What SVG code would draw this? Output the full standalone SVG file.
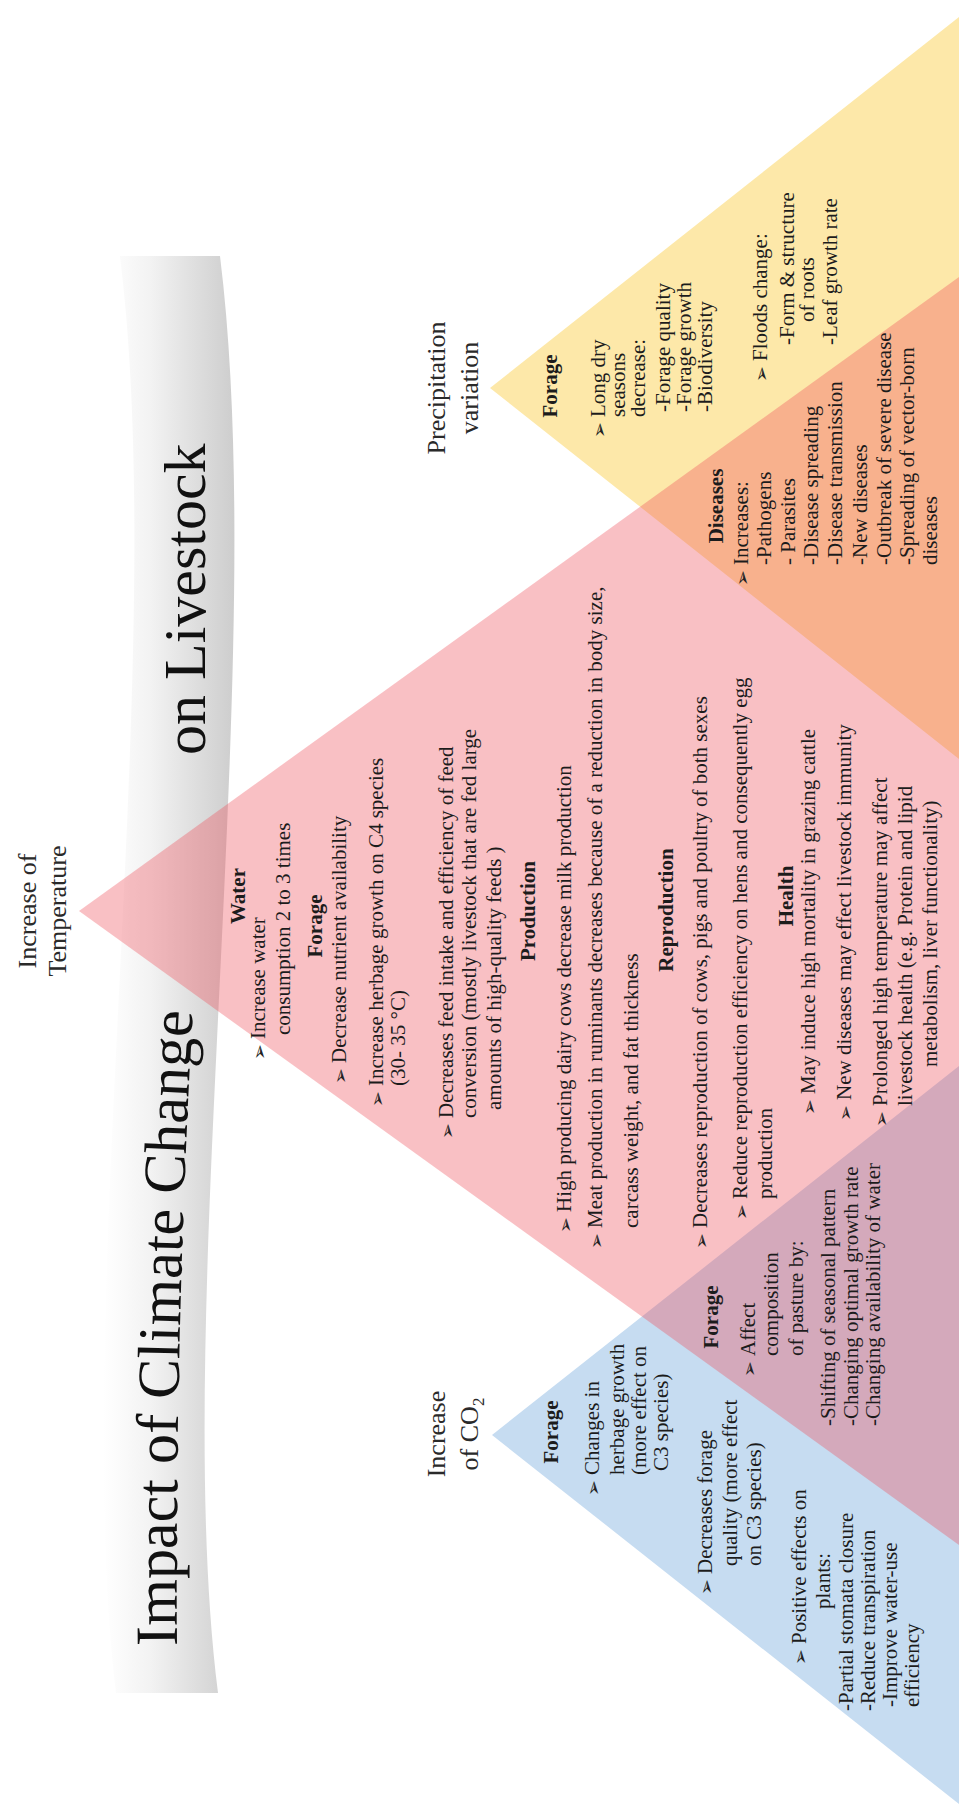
<svg xmlns="http://www.w3.org/2000/svg" width="959" height="1811" viewBox="0 0 959 1811">
<defs>
<linearGradient id="ribbonGrad" x1="0" y1="0" x2="0" y2="1">
<stop offset="0" stop-color="#ffffff"/>
<stop offset="0.35" stop-color="#f3f3f3"/>
<stop offset="1" stop-color="#cdcdcd"/>
</linearGradient>
<path id="titlePath" d="M 165 177 Q 500 175 820 194"/>
</defs>
<style>
.t{font-family:"Liberation Serif","Times New Roman",serif;font-size:21px;fill:#1c1c1c}
.h{font-weight:bold;text-anchor:middle}
.b{font-family:"DejaVu Sans",sans-serif;font-size:19px;fill:#222}
.lab{font-family:"Liberation Serif","Times New Roman",serif;font-size:26px;text-anchor:middle;fill:#2a2a2a}
.ttl{font-family:"Liberation Serif","Times New Roman",serif;font-size:60px;fill:#111}
</style>
<rect width="959" height="1811" fill="#ffffff"/>
<g id="shapes">
<polygon id="tri-precipitation" points="490,388 959,17 959,759" fill="#fde8a9"/>
<polygon id="tri-co2" points="492,1435 959,1066 959,1804" fill="#c6dcf1"/>
<g transform="translate(0 1811) rotate(-90)">
<path id="ribbon" d="M 118 116 C 500 70 1150 170 1555 120 L 1555 220 C 1150 270 500 170 118 218 Z" fill="url(#ribbonGrad)"/>
</g>
<polygon id="tri-temperature" points="79,911 959,277 959,1545" fill="rgb(239,80,92)" fill-opacity="0.36"/>
</g>
<g id="connectors"/>
<g transform="translate(0 1811) rotate(-90)">
<g id="title">
<text class="ttl"><textPath href="#titlePath">Impact of Climate Change</textPath></text>
<text class="ttl" x="1056" y="205">on Livestock</text>
</g>
<g id="node-temperature">
<text class="lab" x="900" y="36">Increase of</text>
<text class="lab" x="900" y="66">Temperature</text>
<text class="t h" x="915" y="245">Water</text>
<text class="b" x="751" y="266">➢</text><text class="t" x="772" y="265">Increase water</text>
<text class="t" x="776" y="290">consumption 2 to 3 times</text>
<text class="t h" x="885" y="322">Forage</text>
<text class="b" x="727" y="347">➢</text><text class="t" x="748" y="346">Decrease nutrient availability</text>
<text class="b" x="704" y="384">➢</text><text class="t" x="725" y="383">Increase herbage growth on C4 species</text>
<text class="t" x="725" y="405">(30- 35 °C)</text>
<text class="b" x="672" y="454">➢</text><text class="t" x="693" y="453">Decreases feed intake and efficiency of feed</text>
<text class="t" x="693" y="476">conversion (mostly livestock that are fed large</text>
<text class="t" x="701" y="501">amounts of high-quality feeds )</text>
<text class="t h" x="900" y="535">Production</text>
<text class="b" x="578" y="572">➢</text><text class="t" x="599" y="571">High producing dairy cows decrease milk production</text>
<text class="b" x="562" y="603">➢</text><text class="t" x="583" y="602">Meat production in ruminants decreases because of a reduction in  body size,</text>
<text class="t" x="583" y="638">carcass weight, and fat thickness</text>
<text class="t h" x="901" y="673">Reproduction</text>
<text class="b" x="562" y="708">➢</text><text class="t" x="583" y="707">Decreases reproduction of cows, pigs and poultry of both sexes</text>
<text class="b" x="591" y="748">➢</text><text class="t" x="612" y="747">Reduce reproduction efficiency on hens and consequently egg</text>
<text class="t" x="612" y="772">production</text>
<text class="t h" x="915" y="793">Health</text>
<text class="b" x="696" y="816">➢</text><text class="t" x="717" y="815">May induce high mortality in grazing cattle</text>
<text class="b" x="690" y="852">➢</text><text class="t" x="711" y="851">New diseases may effect livestock immunity</text>
<text class="b" x="684" y="888">➢</text><text class="t" x="705" y="887">Prolonged high temperature may affect</text>
<text class="t" x="705" y="912">livestock health (e.g. Protein and lipid</text>
<text class="t" x="744" y="937">metabolism, liver functionality)</text>
</g>
<g id="node-precipitation">
<text class="lab" x="1423" y="445">Precipitation</text>
<text class="lab" x="1423" y="478">variation</text>
<text class="t h" x="1425" y="557">Forage</text>
<text class="b" x="1373" y="606">➢</text><text class="t" x="1394" y="605">Long dry</text>
<text class="t" x="1394" y="625">seasons</text>
<text class="t" x="1394" y="645">decrease:</text>
<text class="t" x="1399" y="670">-Forage quality</text>
<text class="t" x="1399" y="691">-Forage growth</text>
<text class="t" x="1399" y="712">-Biodiversity</text>
<text class="b" x="1429" y="768">➢</text><text class="t" x="1450" y="767">Floods change:</text>
<text class="t" x="1466" y="794">-Form &amp; structure</text>
<text class="t" x="1489" y="814">of roots</text>
<text class="t" x="1466" y="837">-Leaf growth rate</text>
</g>
<g id="node-diseases">
<text class="t h" x="1305" y="723">Diseases</text>
<text class="b" x="1225" y="749">➢</text><text class="t" x="1246" y="748">Increases:</text>
<text class="t" x="1246" y="771">-Pathogens</text>
<text class="t" x="1246" y="795">- Parasites</text>
<text class="t" x="1246" y="818">-Disease spreading</text>
<text class="t" x="1246" y="842">-Disease transmission</text>
<text class="t" x="1246" y="867">-New diseases</text>
<text class="t" x="1246" y="891">-Outbreak of severe disease</text>
<text class="t" x="1246" y="914">-Spreading of vector-born</text>
<text class="t" x="1246" y="937">diseases</text>
</g>
<g id="node-co2">
<text class="lab" x="377" y="445">Increase</text>
<text class="lab" x="377" y="478">of CO<tspan font-size="17" dy="6">2</tspan></text>
<text class="t h" x="379" y="558">Forage</text>
<text class="b" x="315" y="600">➢</text><text class="t" x="336" y="599">Changes in</text>
<text class="t" x="336" y="624">herbage growth</text>
<text class="t" x="336" y="646">(more effect on</text>
<text class="t" x="340" y="668">C3 species)</text>
<text class="b" x="216" y="713">➢</text><text class="t" x="237" y="712">Decreases forage</text>
<text class="t" x="245" y="737">quality (more effect</text>
<text class="t" x="245" y="761">on C3 species)</text>
<text class="b" x="146" y="807">➢</text><text class="t" x="167" y="806">Positive effects on</text>
<text class="t" x="202" y="830">plants:</text>
<text class="t" x="100" y="853">-Partial stomata closure</text>
<text class="t" x="100" y="875">-Reduce transpiration</text>
<text class="t" x="104" y="897">-Improve water-use</text>
<text class="t" x="104" y="919">efficiency</text>
</g>
<g id="node-co2-temperature">
<text class="t h" x="494" y="718">Forage</text>
<text class="b" x="434" y="756">➢</text><text class="t" x="455" y="755">Affect</text>
<text class="t" x="455" y="778">composition</text>
<text class="t" x="455" y="803">of pasture by:</text>
<text class="t" x="385" y="835">-Shifting of seasonal pattern</text>
<text class="t" x="385" y="858">-Changing optimal growth rate</text>
<text class="t" x="385" y="880">-Changing availability of water</text>
</g>
</g>
</svg>
